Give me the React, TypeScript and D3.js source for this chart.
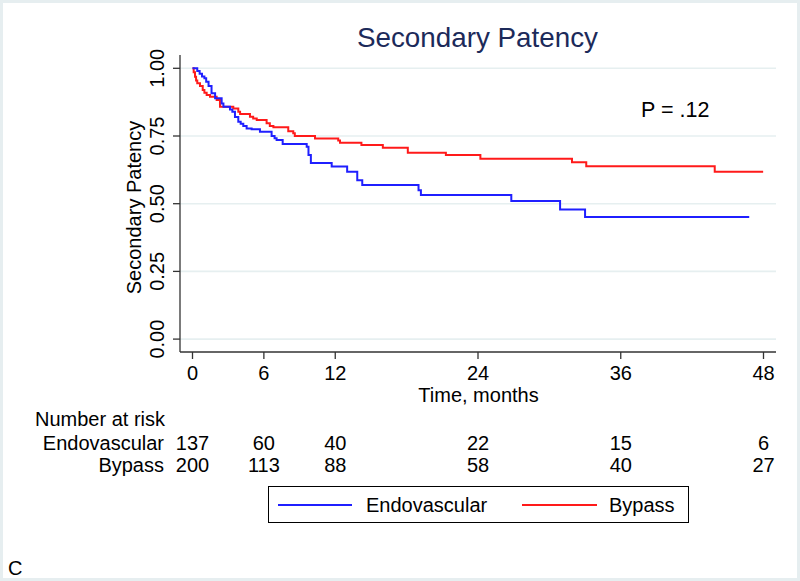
import React from "react";
import * as d3 from "d3";

const xTicks = [0, 6, 12, 24, 36, 48];
const yTicks = [0, 0.25, 0.5, 0.75, 1];
const yTickLabels = ["0.00", "0.25", "0.50", "0.75", "1.00"];

const endoTimes = [0, 0.4, 0.6, 0.8, 1.0, 1.15, 1.35, 1.6, 1.9, 2.45, 2.6, 3.15, 3.35, 3.57, 3.85, 4.05, 4.27, 4.55, 4.97, 5.67, 6.65, 6.9, 7.07, 7.58, 9.6, 9.75, 9.95, 11.7, 13.0, 13.85, 14.27, 19.0, 19.2, 26.8, 30.9, 33.0];
const endoSurv = [1, 0.99, 0.98, 0.97, 0.963, 0.95, 0.935, 0.908, 0.889, 0.87, 0.858, 0.848, 0.84, 0.82, 0.803, 0.795, 0.787, 0.778, 0.775, 0.766, 0.75, 0.742, 0.735, 0.72, 0.71, 0.68, 0.65, 0.637, 0.618, 0.587, 0.569, 0.55, 0.532, 0.51, 0.479, 0.451];
const endoEnd = 46.8;

const bypassTimes = [0, 0.1, 0.21, 0.3, 0.4, 0.63, 0.86, 1.0, 1.19, 1.47, 2.03, 2.31, 3.43, 3.85, 4.0, 4.83, 5.1, 5.4, 6.23, 6.5, 6.8, 8.05, 8.47, 8.6, 10.3, 12.25, 12.4, 14.2, 16.0, 18.1, 21.3, 24.2, 31.9, 33.1, 43.9];
const bypassSurv = [1, 0.985, 0.969, 0.955, 0.945, 0.935, 0.92, 0.91, 0.901, 0.895, 0.883, 0.858, 0.852, 0.84, 0.831, 0.821, 0.815, 0.809, 0.797, 0.787, 0.782, 0.768, 0.76, 0.75, 0.741, 0.733, 0.725, 0.717, 0.707, 0.688, 0.68, 0.666, 0.653, 0.638, 0.618];
const bypassEnd = 47.97;

const groups = ["Endovascular", "Bypass"];
const endoRisk = [137, 60, 40, 22, 15, 6];
const bypassRisk = [200, 113, 88, 58, 40, 27];

const BLUE = "#1f1fff";
const RED = "#ff1a1a";
const FONT = "'Liberation Sans', Arial, Helvetica, sans-serif";

export default function App() {
  const W = 800, H = 581;
  const x = d3.scaleLinear().domain([0, 48]).range([192.5, 763.5]);
  const y = d3.scaleLinear().domain([0, 1]).range([339.1, 68.3]);
  const line = d3.line<[number, number]>().x(d => x(d[0])).y(d => y(d[1])).curve(d3.curveStepAfter);
  const pts = (t: number[], s: number[], end: number): [number, number][] => {
    const p = t.map((v, i) => [v, s[i]] as [number, number]);
    p.push([end, s[s.length - 1]]);
    return p;
  };
  const endoPath = line(pts(endoTimes, endoSurv, endoEnd)) || "";
  const bypassPath = line(pts(bypassTimes, bypassSurv, bypassEnd)) || "";
  const axisColor = "#333";
  const gridColor = "#e6eff0";
  const plotLeft = 180, plotRight = 776, plotTop = 55, plotBottom = 352;
  const fs = 20;

  return (
    <svg width={W} height={H} style={{ position: "absolute", left: 0, top: 0, display: "block" }} fontFamily={FONT}>
      <rect x={0} y={0} width={W} height={H} fill="#e6eef0" />
      <rect x={3} y={3} width={W - 6} height={H - 6} fill="#ffffff" />
      <text x={477.5} y={47} textAnchor="middle" fontSize={27.8} fill="#1c2a5a">Secondary Patency</text>
      {yTicks.map((t, i) => (
        <g key={"g" + i}>
          <line x1={plotLeft} x2={plotRight} y1={y(t)} y2={y(t)} stroke={gridColor} strokeWidth={1.6} />
          <line x1={plotLeft - 7} x2={plotLeft} y1={y(t)} y2={y(t)} stroke={axisColor} strokeWidth={1.3} />
          <text transform={`translate(164,${y(t)}) rotate(-90)`} textAnchor="middle" fontSize={fs} fill="#000">{yTickLabels[i]}</text>
        </g>
      ))}
      <text transform={`translate(141,207.5) rotate(-90)`} textAnchor="middle" fontSize={fs} fill="#000">Secondary Patency</text>
      <line x1={plotLeft} x2={plotLeft} y1={plotTop} y2={plotBottom} stroke={axisColor} strokeWidth={1.3} />
      <line x1={plotLeft} x2={plotRight} y1={plotBottom} y2={plotBottom} stroke={axisColor} strokeWidth={1.3} />
      {xTicks.map((t, i) => (
        <g key={"x" + i}>
          <line x1={x(t)} x2={x(t)} y1={plotBottom} y2={plotBottom + 7} stroke={axisColor} strokeWidth={1.3} />
          <text x={x(t)} y={380} textAnchor="middle" fontSize={fs} fill="#000">{t}</text>
        </g>
      ))}
      <text x={478.5} y={402} textAnchor="middle" fontSize={fs} fill="#000">Time, months</text>
      <path d={bypassPath} fill="none" stroke={RED} strokeWidth={2} />
      <path d={endoPath} fill="none" stroke={BLUE} strokeWidth={2} />
      <text x={641} y={117} fontSize={21.5} fill="#000">P = .12</text>
      <text x={35} y={426} fontSize={fs} fill="#000">Number at risk</text>
      {[endoRisk, bypassRisk].map((row, r) => (
        <g key={"r" + r}>
          <text x={164} y={450 + r * 22} textAnchor="end" fontSize={fs} fill="#000">{groups[r]}</text>
          {row.map((v, i) => (
            <text key={i} x={x(xTicks[i])} y={450 + r * 22} textAnchor="middle" fontSize={fs} fill="#000">{v}</text>
          ))}
        </g>
      ))}
      <rect x={268.5} y={486.5} width={420} height={36} fill="#fff" stroke="#000" strokeWidth={1} />
      <line x1={278} x2={352} y1={505} y2={505} stroke={BLUE} strokeWidth={2} />
      <text x={366} y={512} fontSize={fs} fill="#000">{groups[0]}</text>
      <line x1={522} x2={597} y1={505} y2={505} stroke={RED} strokeWidth={2} />
      <text x={609} y={512} fontSize={fs} fill="#000">{groups[1]}</text>
      <text x={8} y={575} fontSize={fs} fill="#000">C</text>
    </svg>
  );
}
